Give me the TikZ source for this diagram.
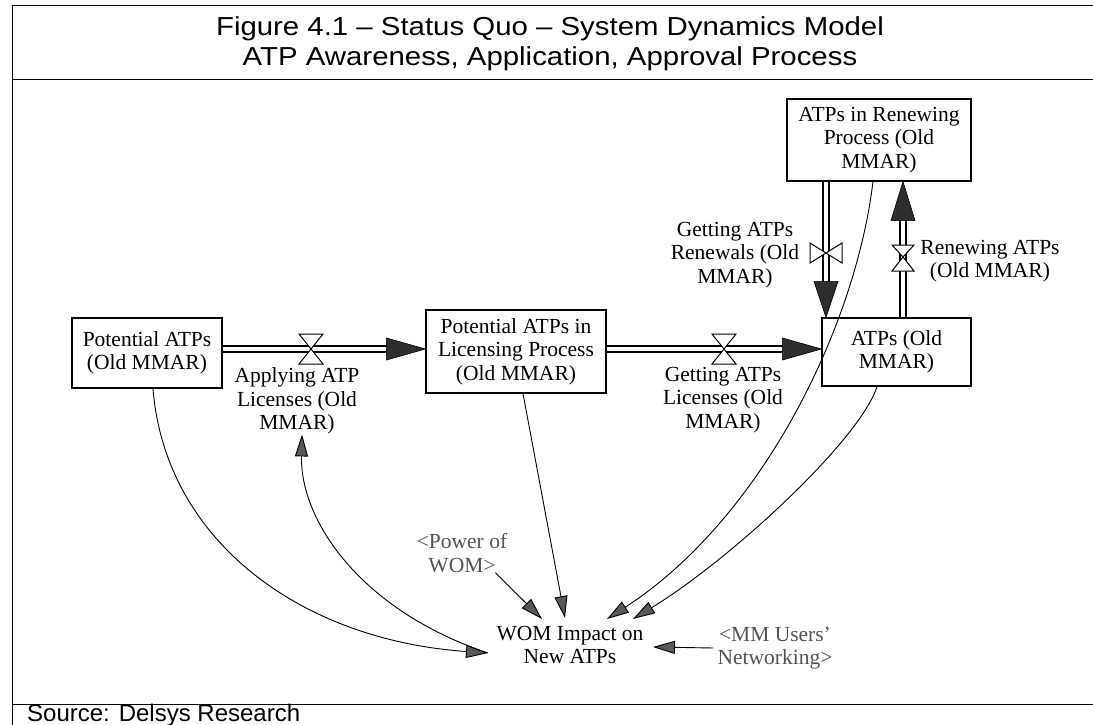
\documentclass[tikz,border=0pt]{standalone}
\usepackage{fontspec}
\setmainfont{Liberation Serif}
\newfontfamily\dgmsans{Liberation Sans}
\usetikzlibrary{arrows.meta}
\newcommand{\dgmfont}{\fontsize{21.5}{23.5}\selectfont}
\newcommand{\dgmtitlefont}{\dgmsans\fontsize{26}{30}\selectfont}
\newcommand{\dgmsourcefont}{\dgmsans\fontsize{24}{28}\selectfont}
\begin{document}
\begin{tikzpicture}[x=1pt,y=-1pt,
  stock/.style={draw=black, line width=1.2pt, inner sep=0pt, align=center, font=\dgmfont},
  lbl/.style={inner sep=0pt, align=center, font=\dgmfont},
  shadowvar/.style={lbl, text=black!68},
  pipe/.style={draw=black, line width=1.3pt, double=white, double distance=4.5pt},
  flowhead/.style={fill=black!82, draw=black, line width=0.6pt, line join=miter},
  valvetri/.style={draw=black, fill=white, line width=1pt, line join=miter},
  info/.style={draw=black, line width=0.9pt, -{Triangle[length=22pt,width=13pt,fill=black!65]}},
  frameline/.style={draw=black, line width=1pt},
  titletext/.style={font=\dgmtitlefont, inner sep=0pt, anchor=base}
]
\useasboundingbox (0,0) rectangle (1093,725);

% frame
\draw[frameline] (12,725) -- (12,6) -- (1093,6);
\draw[frameline] (12,80) -- (1093,80);
\draw[frameline] (12,704) -- (1093,704);
\node[titletext] (title1) at (550,35.5) {\scalebox{1.13}[1]{Figure 4.1 – Status Quo – System Dynamics Model}};
\node[titletext] (title2) at (550,66) {\scalebox{1.13}[1]{ATP Awareness, Application, Approval Process}};
\node[font=\dgmsourcefont, anchor=base west, inner sep=0pt] (src) at (27,721) {Source: Delsys Research};

% stocks
\node[stock, minimum width=150pt, minimum height=70pt] (pot) at (147,353) {Potential ATPs\\(Old MMAR)};
\node[stock, minimum width=180pt, minimum height=83pt] (lic) at (516,351.5) {Potential ATPs in\\Licensing Process\\(Old MMAR)};
\node[stock, minimum width=149pt, minimum height=68pt] (atp) at (896.5,352) {ATPs (Old\\MMAR)};
\node[stock, minimum width=184pt, minimum height=82pt] (ren) at (879,140) {ATPs in Renewing\\Process (Old\\MMAR)};

% valves (rates)
\coordinate (v1) at (311,349);
\coordinate (v2) at (724,349);
\coordinate (v3) at (826,253);
\coordinate (v4) at (903,257);

% flow pipes
\draw[pipe] ([yshift=4pt]pot.east) -- (v1) -- ([yshift=2.5pt,xshift=-30pt]lic.west);
\filldraw[flowhead] ([yshift=2.5pt]lic.west) -- ++(-39,-11) -- ++(0,22) -- cycle;
\draw[pipe] ([yshift=2.5pt]lic.east) -- (v2) -- ([yshift=3pt,xshift=-30pt]atp.west);
\filldraw[flowhead] ([yshift=3pt]atp.west) -- ++(-39,-11) -- ++(0,22) -- cycle;
\draw[pipe] ([xshift=-53pt]ren.south) -- (v3) -- ([xshift=-70.5pt,yshift=30pt]atp.north);
\filldraw[flowhead] ([xshift=-70.5pt]atp.north) -- ++(-12,-36) -- ++(24,0) -- cycle;
\draw[pipe] ([xshift=6.5pt]atp.north) -- (v4) -- ([xshift=24pt,yshift=-30pt]ren.south);
\filldraw[flowhead] ([xshift=24pt]ren.south) -- ++(-12,39) -- ++(24,0) -- cycle;

% valve symbols
\draw[valvetri] (v1) -- ++(-12,-15) -- ++(24,0) -- cycle;
\draw[valvetri] (v1) -- ++(-12,15) -- ++(24,0) -- cycle;
\draw[valvetri] (v2) -- ++(-12,-15) -- ++(24,0) -- cycle;
\draw[valvetri] (v2) -- ++(-12,15) -- ++(24,0) -- cycle;
\draw[valvetri] (v3) -- ++(-16,-10) -- ++(0,20) -- cycle;
\draw[valvetri] (v3) -- ++(16,-10) -- ++(0,20) -- cycle;
\draw[valvetri] (v4) -- ++(-11,-12) -- ++(22,0) -- cycle;
\draw[valvetri] (v4) -- ++(-11,14) -- ++(22,0) -- cycle;

% rate labels
\node[lbl] (lapp) at (297,401) {Applying ATP\\Licenses (Old\\MMAR)};
\node[lbl] (lgl) at (723,400) {Getting ATPs\\Licenses (Old\\MMAR)};
\node[lbl] (lgr) at (735,255) {Getting ATPs\\Renewals (Old\\MMAR)};
\node[lbl] (lrn) at (990,261) {Renewing ATPs\\(Old MMAR)};

% auxiliaries
\node[lbl] (wom) at (570,645) {WOM Impact on\\New ATPs};
\node[shadowvar] (pow) at (462,553) {<Power of\\WOM>};
\node[shadowvar] (mmu) at (775,648) {<MM Users'\\Networking>};

% arrow end points at WOM
\coordinate (wL) at ([shift={(-82,8)}]wom.center);
\coordinate (wP) at ([shift={(-28,-26)}]wom.center);
\coordinate (wC) at ([shift={(-5,-27)}]wom.center);
\coordinate (wR1) at ([shift={(37,-26)}]wom.center);
\coordinate (wR2) at ([shift={(63,-26)}]wom.center);
\coordinate (wE) at ([shift={(83,2)}]wom.center);

% information links
\draw[info] ([xshift=6pt]pot.south) .. controls (165,540) and (300,640) .. (wL);
\draw[info] (wL) .. controls (360,610) and (300,520) .. ([xshift=5pt]lapp.south);
\draw[info] ([xshift=7pt]lic.south) -- (wC);
\draw[info] ([xshift=-6pt]ren.south) .. controls (855,330) and (760,520) .. (wR1);
\draw[info] ([xshift=-19.5pt]atp.south) .. controls (860,440) and (730,560) .. (wR2);
\draw[info] ([xshift=-12pt]pow.south east) -- (wP);
\draw[info] ([xshift=-4pt]mmu.west) -- (wE);
\end{tikzpicture}
\end{document}
